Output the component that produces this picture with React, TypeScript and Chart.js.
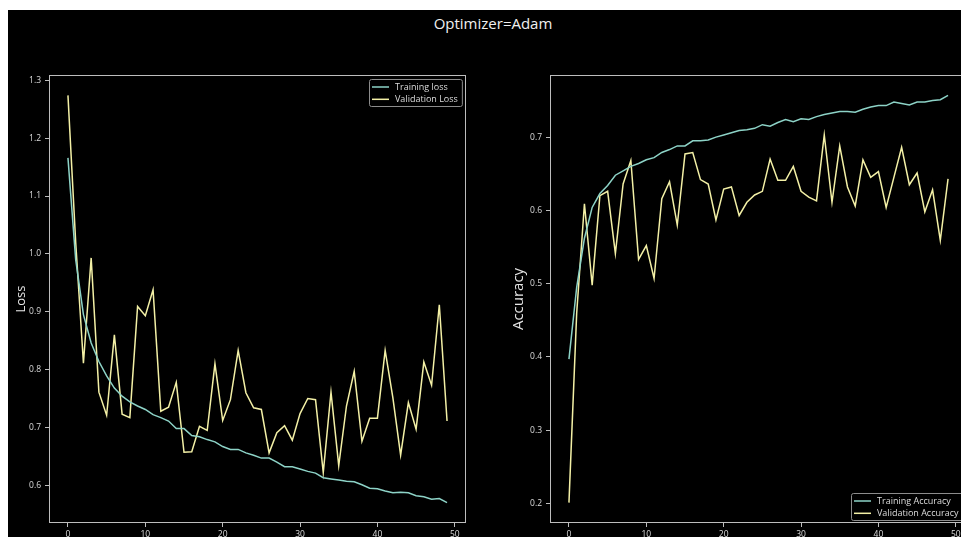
import React, { useEffect, useRef } from 'react';
import { Chart, registerables } from 'chart.js';

Chart.register(...registerables);

// ---- Data ----
const trainingLoss = [1.166, 0.990, 0.895, 0.846, 0.814, 0.789, 0.768, 0.754, 0.744, 0.737, 0.731, 0.722, 0.717, 0.711, 0.698, 0.698, 0.686, 0.684, 0.679, 0.675, 0.667, 0.662, 0.662, 0.656, 0.652, 0.647, 0.647, 0.640, 0.632, 0.632, 0.628, 0.624, 0.621, 0.613, 0.611, 0.609, 0.607, 0.606, 0.601, 0.595, 0.594, 0.590, 0.587, 0.588, 0.587, 0.582, 0.580, 0.576, 0.577, 0.570];
const validationLoss = [1.274, 1.020, 0.811, 0.993, 0.761, 0.721, 0.860, 0.723, 0.717, 0.909, 0.893, 0.938, 0.728, 0.735, 0.778, 0.657, 0.658, 0.702, 0.695, 0.810, 0.712, 0.748, 0.833, 0.760, 0.734, 0.731, 0.656, 0.691, 0.703, 0.678, 0.724, 0.750, 0.748, 0.622, 0.761, 0.634, 0.737, 0.797, 0.676, 0.716, 0.716, 0.833, 0.751, 0.652, 0.743, 0.697, 0.813, 0.773, 0.912, 0.711];
const trainingAccuracy = [0.397, 0.495, 0.562, 0.604, 0.623, 0.634, 0.648, 0.654, 0.660, 0.664, 0.669, 0.672, 0.679, 0.683, 0.688, 0.688, 0.695, 0.695, 0.696, 0.700, 0.703, 0.706, 0.709, 0.710, 0.712, 0.717, 0.715, 0.720, 0.724, 0.721, 0.725, 0.724, 0.728, 0.731, 0.733, 0.735, 0.735, 0.734, 0.738, 0.741, 0.743, 0.743, 0.748, 0.746, 0.744, 0.748, 0.748, 0.750, 0.751, 0.757];
const validationAccuracy = [0.201, 0.460, 0.609, 0.498, 0.620, 0.626, 0.541, 0.636, 0.668, 0.533, 0.552, 0.507, 0.616, 0.639, 0.580, 0.677, 0.679, 0.642, 0.636, 0.587, 0.629, 0.632, 0.593, 0.611, 0.621, 0.626, 0.670, 0.641, 0.641, 0.660, 0.626, 0.618, 0.613, 0.703, 0.611, 0.688, 0.632, 0.606, 0.669, 0.645, 0.653, 0.604, 0.645, 0.686, 0.635, 0.651, 0.598, 0.628, 0.559, 0.643];

const epochTicks = [0, 10, 20, 30, 40, 50];
const lossTicks = [0.6, 0.7, 0.8, 0.9, 1.0, 1.1, 1.2, 1.3];
const accuracyTicks = [0.2, 0.3, 0.4, 0.5, 0.6, 0.7];

const figureTitle = 'Optimizer=Adam';

// ---- Styles ----
const FONT = '"Open Sans", "Noto Sans", sans-serif';
const C_TRAIN = '#8dd3c7';
const C_VAL = '#f3f0a6';
const SPINE = '#bdbdbd';
const TEXT = '#dcdcdc';

const pad = (arr: number[]) => {
  const lo = Math.min(...arr);
  const hi = Math.max(...arr);
  const m = (hi - lo) * 0.05;
  return { min: lo - m, max: hi + m };
};

const framePlugin = {
  id: 'mplFrame',
  afterDraw(chart: any) {
    const { ctx, chartArea } = chart;
    const { left, top, right, bottom } = chartArea;
    ctx.save();
    ctx.strokeStyle = SPINE;
    ctx.lineWidth = 1;
    ctx.strokeRect(Math.round(left) + 0.5, Math.round(top) + 0.5, Math.round(right - left) - 1, Math.round(bottom - top) - 1);
    ctx.restore();
  },
};

const legendPlugin = {
  id: 'mplLegend',
  afterDraw(chart: any) {
    const opts = chart.options.plugins.mplLegend;
    if (!opts) return;
    const { ctx, chartArea } = chart;
    ctx.save();
    ctx.font = `9px ${FONT}`;
    const ds = chart.data.datasets;
    const textW = Math.max(...ds.map((d: any) => ctx.measureText(d.label).width));
    const lineLen = 17;
    const boxW = 3 + lineLen + 6 + textW + 4;
    const boxH = 27;
    const x = Math.round(chartArea.right - 4 - boxW);
    const y = opts.corner === 'tr' ? Math.round(chartArea.top + 4) : Math.round(chartArea.bottom - 3 - boxH);
    ctx.beginPath();
    (ctx as any).roundRect(x + 0.5, y + 0.5, boxW, boxH, 2);
    ctx.fillStyle = 'rgba(0,0,0,0.85)';
    ctx.fill();
    ctx.strokeStyle = '#8c8c8c';
    ctx.lineWidth = 1;
    ctx.stroke();
    ds.forEach((d: any, i: number) => {
      const cy = y + 8 + i * 12.3;
      ctx.strokeStyle = d.borderColor;
      ctx.lineWidth = 1.5;
      ctx.beginPath();
      ctx.moveTo(x + 3, cy);
      ctx.lineTo(x + 3 + lineLen, cy);
      ctx.stroke();
      ctx.fillStyle = TEXT;
      ctx.textBaseline = 'middle';
      ctx.textAlign = 'left';
      ctx.fillText(d.label, x + 3 + lineLen + 6, cy);
    });
    ctx.restore();
  },
};

function makeConfig(opts: {
  series: { label: string; values: number[]; color: string }[];
  yTicks: number[];
  yTitle: string;
  yTitleSize: number;
  yTitlePad: number;
  yAxisWidth: number;
  padRight: number;
  corner: 'tr' | 'br';
}) {
  const all = opts.series.flatMap((s) => s.values);
  const yr = pad(all);
  const n = opts.series[0].values.length;
  const xm = (n - 1) * 0.05;
  return {
    type: 'line' as const,
    data: {
      datasets: opts.series.map((s) => ({
        label: s.label,
        data: s.values.map((v, i) => ({ x: i, y: v })),
        borderColor: s.color,
        backgroundColor: s.color,
        borderWidth: 1.5,
        pointRadius: 0,
        tension: 0,
        fill: false,
      })),
    },
    options: {
      responsive: false,
      animation: false as const,
      maintainAspectRatio: false,
      layout: { padding: { left: 0, top: 15, right: opts.padRight, bottom: 0 } },
      plugins: {
        legend: { display: false },
        title: { display: false },
        tooltip: { enabled: false },
        mplLegend: { corner: opts.corner },
      },
      scales: {
        x: {
          type: 'linear' as const,
          min: -xm,
          max: n - 1 + xm,
          afterBuildTicks: (scale: any) => {
            scale.ticks = epochTicks.map((v) => ({ value: v }));
          },
          afterFit: (scale: any) => {
            scale.height = 37;
          },
          grid: { display: true, drawOnChartArea: false, drawTicks: true, tickLength: 4, color: SPINE },
          border: { display: false },
          ticks: {
            autoSkip: false,
            maxRotation: 0,
            color: TEXT,
            padding: 2,
            font: { size: 8.5, family: FONT },
            callback: (v: any) => String(v),
          },
        },
        y: {
          type: 'linear' as const,
          min: yr.min,
          max: yr.max,
          afterBuildTicks: (scale: any) => {
            scale.ticks = opts.yTicks.map((v) => ({ value: v }));
          },
          afterFit: (scale: any) => {
            scale.width = opts.yAxisWidth;
          },
          grid: { display: true, drawOnChartArea: false, drawTicks: true, tickLength: 4, color: SPINE },
          border: { display: false },
          title: {
            display: true,
            text: opts.yTitle,
            color: '#e6e6e6',
            font: { size: opts.yTitleSize, family: FONT },
            padding: { top: opts.yTitlePad, bottom: 0 },
          },
          ticks: {
            autoSkip: false,
            color: TEXT,
            padding: 4,
            font: { size: 8.5, family: FONT },
            callback: (v: any) => Number(v).toFixed(1),
          },
        },
      },
    },
    plugins: [framePlugin, legendPlugin],
  };
}

export default function App() {
  const lossRef = useRef<HTMLCanvasElement>(null);
  const accRef = useRef<HTMLCanvasElement>(null);

  useEffect(() => {
    Chart.defaults.font.family = FONT;
    const c1 = new Chart(
      lossRef.current as HTMLCanvasElement,
      makeConfig({
        series: [
          { label: 'Training loss', values: trainingLoss, color: C_TRAIN },
          { label: 'Validation Loss', values: validationLoss, color: C_VAL },
        ],
        yTicks: lossTicks,
        yTitle: 'Loss',
        yTitleSize: 13,
        yTitlePad: 5,
        yAxisWidth: 41,
        padRight: 14,
        corner: 'tr',
      }) as any
    );
    const c2 = new Chart(
      accRef.current as HTMLCanvasElement,
      makeConfig({
        series: [
          { label: 'Training Accuracy', values: trainingAccuracy, color: C_TRAIN },
          { label: 'Validation Accuracy', values: validationAccuracy, color: C_VAL },
        ],
        yTicks: accuracyTicks,
        yTitle: 'Accuracy',
        yTitleSize: 15,
        yTitlePad: 30,
        yAxisWidth: 70,
        padRight: 13,
        corner: 'br',
      }) as any
    );
    return () => {
      c1.destroy();
      c2.destroy();
    };
  }, []);

  return (
    <div
      style={{
        position: 'absolute',
        left: 8,
        top: 10,
        width: 953,
        height: 527,
        background: '#000',
        overflow: 'hidden',
      }}
    >
      <div
        style={{
          position: 'absolute',
          left: 385,
          top: 3,
          width: 200,
          textAlign: 'center',
          fontFamily: FONT,
          fontSize: 15,
          lineHeight: '20px',
          color: '#f0f0f0',
        }}
      >
        {figureTitle}
      </div>
      <canvas
        ref={lossRef}
        width={472}
        height={500}
        style={{ position: 'absolute', left: 0, top: 50, width: 472, height: 500 }}
      />
      <canvas
        ref={accRef}
        width={500}
        height={500}
        style={{ position: 'absolute', left: 472, top: 50, width: 500, height: 500 }}
      />
    </div>
  );
}
